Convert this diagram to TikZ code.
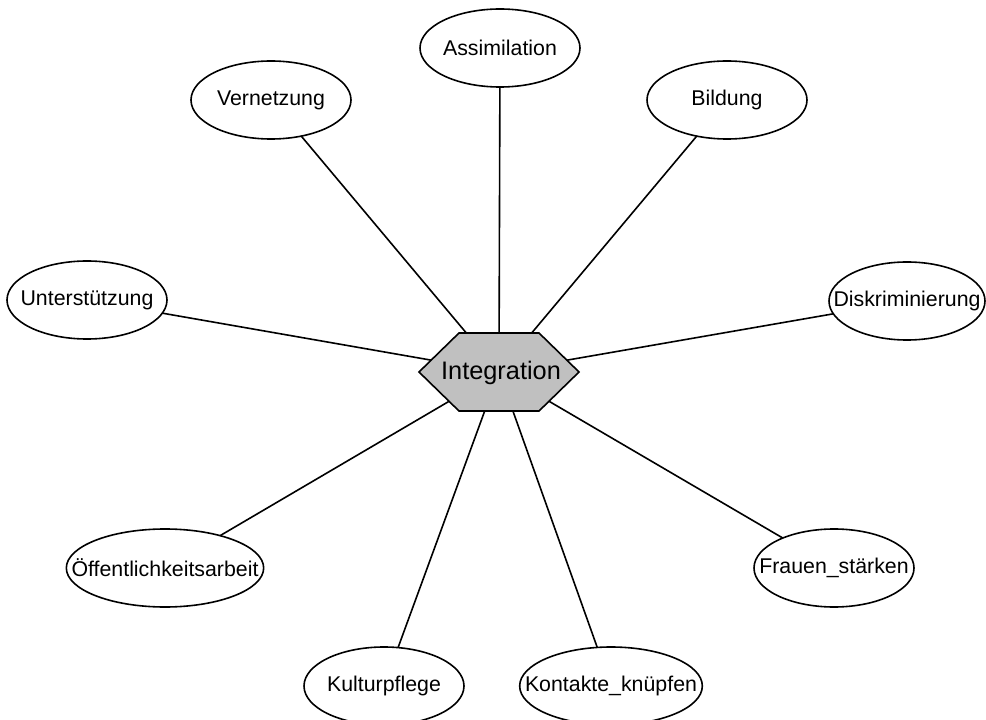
\documentclass[tikz,border=0pt]{standalone}
\usepackage{fontspec}
\setmainfont{Liberation Sans}
\usetikzlibrary{shapes.geometric}

\tikzset{
  topic/.style={ellipse, draw=black, line width=1.2pt, fill=white,
    inner sep=0pt, outer sep=0pt, minimum width=120pt, minimum height=58.5pt,
    font=\fontsize{16pt}{18pt}\selectfont},
  hub/.style={regular polygon, regular polygon sides=6, draw=black,
    line width=1.2pt, fill=hubgray, inner sep=0pt, outer sep=0pt,
    minimum size=120pt, yscale=0.563, transform shape},
  hublabel/.style={inner sep=0pt, font=\fontsize{19pt}{21pt}\selectfont},
  link/.style={draw=black, line width=1.2pt}
}
\definecolor{hubgray}{HTML}{C0C0C0}
\newcommand{\lbl}[1]{\makebox[0pt]{#1}}

\begin{document}
\begin{tikzpicture}[x=0.75pt, y=-0.75pt]
  \useasboundingbox (0,0) rectangle (986,720);
  \clip (0,0) rectangle (986,720);

  % central hexagon
  \node[hub] (integ) at (499,372) {};
  \node[hublabel] (integtext) at (501,373) {Integration};

  % surrounding topics
  \node[topic] (assim)  at (500,48)  {\lbl{Assimilation}};
  \node[topic] (vernet) at (271,100) {\lbl{Vernetzung}};
  \node[topic] (bild)   at (727,100) {\lbl{Bildung}};
  \node[topic] (unter)  at (87,300)  {\lbl{Unterstützung}};
  \node[topic, minimum width=117pt] (diskr) at (907,301) {\lbl{Diskriminierung}};
  \node[topic, minimum width=148pt] (oeff)  at (165,568) {\lbl{Öffentlichkeitsarbeit}};
  \node[topic] (frauen) at (834,568) {\lbl{Frauen\_stärken}};
  \node[topic] (kultur) at (384,686) {\lbl{Kulturpflege}};
  \node[topic, minimum width=137pt] (kontakt) at (611,686) {\lbl{Kontakte\_knüpfen}};

  % connectors
  \foreach \t in {assim, vernet, bild, unter, diskr, oeff, frauen, kultur, kontakt}
    \draw[link] (\t) -- (integ);
\end{tikzpicture}
\end{document}
